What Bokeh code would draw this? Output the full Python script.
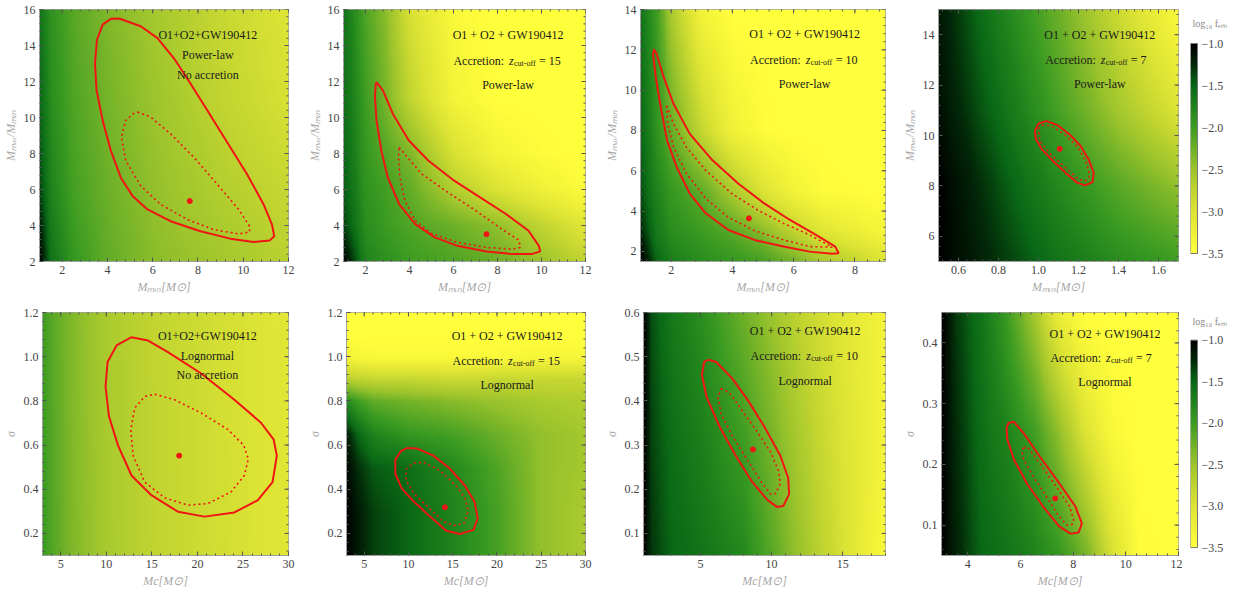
import numpy as np
from bokeh.plotting import figure
from bokeh.models import Range1d, FixedTicker, LinearColorMapper, Label, PrintfTickFormatter
from bokeh.core.properties import value
from bokeh.layouts import row, column
from bokeh.embed import file_html
from bokeh.resources import INLINE

# ------------------------------------------------------------------ data
CBAR_LOW, CBAR_HIGH = -3.5, -1.0
CBAR_TICKS = [-3.5, -3.0, -2.5, -2.0, -1.5, -1.0]
CBAR_TITLE = "log₁₀ fₑₘ"

# ---- Panel 1: O1+O2+GW190412, power-law, no accretion
P1_HX = [1, 1.5, 2.5, 4, 6, 9, 12]
P1_HY = [2, 6, 11, 16]
P1_HZ = [[-1.05, -1.6, -1.95, -2.2, -2.4, -2.55, -2.7],
         [-1.35, -1.75, -2.05, -2.25, -2.45, -2.65, -2.8],
         [-1.5, -1.85, -2.1, -2.3, -2.5, -2.75, -2.95],
         [-1.6, -1.9, -2.15, -2.35, -2.55, -2.8, -3.0]]
P1_OUT_X = [4.52, 5.47, 6.21, 6.94, 7.67, 8.41, 9.29, 10.17, 10.90, 11.27, 11.37, 11.16, 10.46,
            9.43, 8.11, 6.79, 5.77, 5.11, 4.59, 4.15, 3.79, 3.52, 3.45, 3.54, 3.79, 4.15]
P1_OUT_Y = [15.50, 15.07, 14.41, 13.29, 11.89, 10.40, 8.63, 6.85, 5.17, 4.05, 3.40, 3.16, 3.08,
            3.27, 3.68, 4.24, 4.89, 5.64, 6.67, 8.16, 9.84, 11.52, 13.01, 14.32, 15.16, 15.48]
P1_IN_X = [5.33, 5.91, 6.79, 7.82, 8.85, 9.80, 10.28, 10.28, 9.80, 8.70, 7.53, 6.35, 5.47,
           4.81, 4.62, 4.81, 5.18]
P1_IN_Y = [10.31, 10.03, 9.09, 7.79, 6.29, 4.89, 3.96, 3.64, 3.53, 3.77, 4.33, 5.17, 6.20,
           7.60, 8.91, 9.84, 10.25]
P1_BEST = (7.64, 5.36)

# ---- Panel 2: accretion z=15, power-law
P2_HX = [1, 2, 3, 4, 6, 8, 10, 12]
P2_HY = [2, 4, 6, 8, 11, 16]
P2_HZ = [[-1.05, -1.75, -1.9, -2.0, -2.1, -2.25, -2.5, -2.75],
         [-1.35, -1.85, -2.0, -2.1, -2.25, -2.45, -2.75, -3.05],
         [-1.45, -1.9, -2.05, -2.2, -2.65, -3.0, -3.25, -3.45],
         [-1.5, -1.95, -2.15, -2.35, -2.95, -3.3, -3.45, -3.5],
         [-1.55, -2.0, -2.35, -2.75, -3.3, -3.5, -3.5, -3.5],
         [-1.6, -2.1, -2.45, -2.95, -3.4, -3.5, -3.5, -3.5]]
P2_OUT_X = [2.50, 2.79, 3.24, 3.97, 4.85, 6.03, 7.21, 8.38, 9.41, 9.88, 9.94, 9.56, 8.68,
            7.50, 6.18, 5.15, 4.26, 3.53, 3.01, 2.72, 2.50, 2.43, 2.46]
P2_OUT_Y = [11.97, 11.51, 10.21, 8.72, 7.61, 6.49, 5.56, 4.64, 3.71, 2.87, 2.56, 2.41, 2.41,
            2.56, 2.87, 3.34, 4.08, 5.19, 6.68, 8.16, 9.84, 11.14, 11.79]
P2_IN_X = [3.53, 3.90, 4.56, 5.74, 6.91, 8.09, 8.97, 9.04, 8.68, 7.50, 6.18, 5.00, 4.26,
           3.79, 3.56, 3.50]
P2_IN_Y = [8.35, 7.79, 6.86, 5.84, 4.91, 3.89, 3.19, 2.78, 2.69, 2.78, 3.06, 3.56, 4.27,
           5.38, 6.68, 7.79]
P2_BEST = (7.50, 3.52)

# ---- Panel 3: accretion z=10, power-law
P3_HX = [1, 1.5, 2, 3, 4, 5, 6, 7, 9]
P3_HY = [1.5, 3, 5, 8, 14]
P3_HZ = [[-1.0, -1.5, -1.7, -1.85, -1.95, -2.05, -2.3, -2.6, -3.0],
         [-1.25, -1.65, -1.85, -2.0, -2.15, -2.4, -2.75, -3.05, -3.35],
         [-1.4, -1.75, -1.95, -2.2, -2.6, -3.0, -3.3, -3.45, -3.5],
         [-1.5, -1.9, -2.2, -2.8, -3.25, -3.45, -3.5, -3.5, -3.5],
         [-1.6, -2.0, -2.6, -3.3, -3.5, -3.5, -3.5, -3.5, -3.5]]
P3_OUT_X = [1.44, 1.53, 1.76, 2.08, 2.61, 3.35, 4.19, 5.04, 5.88, 6.73, 7.36, 7.47, 7.26,
            6.52, 5.67, 4.72, 3.87, 3.13, 2.61, 2.18, 1.87, 1.66, 1.50, 1.41]
P3_OUT_Y = [12.03, 11.78, 10.63, 9.31, 7.83, 6.52, 5.37, 4.38, 3.56, 2.82, 2.24, 1.91, 1.88,
            1.99, 2.24, 2.57, 3.06, 3.89, 4.87, 6.19, 7.50, 9.15, 10.63, 11.78]
P3_IN_X = [1.85, 2.08, 2.50, 3.13, 3.98, 4.83, 5.67, 6.52, 7.26, 6.52, 5.67, 4.72, 3.87,
           3.13, 2.50, 2.08, 1.89]
P3_IN_Y = [9.23, 8.33, 7.17, 6.02, 4.87, 4.05, 3.39, 2.82, 2.21, 2.24, 2.57, 3.03, 3.69,
           4.63, 5.86, 7.17, 8.33]
P3_BEST = (4.54, 3.64)

# ---- Panel 4: accretion z=7, power-law
P4_HX = [0.5, 0.8, 1.1, 1.4, 1.7]
P4_HY = [5, 8, 11, 15]
P4_HZ = [[-1.0, -1.3, -1.6, -1.85, -2.0],
         [-1.0, -1.4, -1.8, -2.15, -2.45],
         [-1.1, -1.55, -2.05, -2.55, -3.0],
         [-1.15, -1.7, -2.25, -2.85, -3.4]]
P4_OUT_X = [0.983, 1.000, 1.040, 1.096, 1.160, 1.209, 1.249, 1.276, 1.270, 1.233, 1.193,
            1.144, 1.080, 1.015, 0.986]
P4_OUT_Y = [10.21, 10.48, 10.57, 10.41, 10.01, 9.60, 9.07, 8.53, 8.15, 8.02, 8.13,
            8.46, 8.93, 9.47, 9.87]
P4_IN_X = [1.000, 1.019, 1.064, 1.128, 1.193, 1.238, 1.257, 1.233, 1.196, 1.144, 1.064, 1.007]
P4_IN_Y = [10.27, 10.41, 10.38, 10.05, 9.58, 8.96, 8.40, 8.19, 8.29, 8.66, 9.23, 9.77]
P4_BEST = (1.106, 9.47)

# ---- Panel 5: O1+O2+GW190412, lognormal, no accretion
P5_HX = [3, 4, 6, 10, 15, 20, 25, 30]
P5_HY = [0.1, 1.2]
P5_HZ = [[-1.98, -2.12, -2.33, -2.58, -2.74, -2.85, -2.95, -3.05],
         [-2.0, -2.15, -2.35, -2.6, -2.75, -2.86, -2.96, -3.06]]
P5_OUT_X = [12.77, 14.59, 16.77, 20.42, 24.06, 26.98, 28.36, 28.72, 28.25, 26.61, 24.06,
            20.78, 17.87, 14.95, 12.77, 11.31, 10.29, 9.92, 10.14, 11.13]
P5_OUT_Y = [1.088, 1.073, 1.021, 0.924, 0.805, 0.701, 0.626, 0.552, 0.432, 0.350, 0.295,
            0.276, 0.298, 0.373, 0.462, 0.596, 0.731, 0.865, 0.976, 1.051]
P5_IN_X = [15.32, 17.50, 20.42, 23.33, 25.08, 25.59, 25.15, 23.70, 21.15, 18.96, 16.41,
           14.22, 12.95, 12.69, 13.13, 14.22]
P5_IN_Y = [0.830, 0.805, 0.745, 0.671, 0.599, 0.537, 0.462, 0.388, 0.335, 0.328, 0.361,
           0.432, 0.552, 0.671, 0.768, 0.820]
P5_BEST = (18.0, 0.552)

# ---- Panel 6: accretion z=15, lognormal
P6_HX = [3, 4, 6, 10, 15, 20, 25, 30]
P6_HY = [0.1, 0.3, 0.5, 0.65, 0.8, 0.9, 1.0, 1.1, 1.2]
P6_HZ = [[-1.0, -1.15, -1.35, -1.5, -1.75, -2.05, -2.45, -2.6],
         [-1.0, -1.15, -1.35, -1.5, -1.75, -2.05, -2.45, -2.6],
         [-1.05, -1.25, -1.45, -1.55, -1.8, -2.1, -2.45, -2.55],
         [-1.2, -1.45, -1.75, -1.95, -2.05, -2.25, -2.45, -2.55],
         [-1.85, -2.0, -2.2, -2.3, -2.4, -2.5, -2.6, -2.65],
         [-2.7, -2.75, -2.8, -2.8, -2.85, -2.8, -2.8, -2.8],
         [-3.3, -3.35, -3.4, -3.4, -3.4, -3.4, -3.35, -3.35],
         [-3.5, -3.5, -3.5, -3.5, -3.5, -3.5, -3.5, -3.5],
         [-3.5, -3.5, -3.5, -3.5, -3.5, -3.5, -3.5, -3.5]]
P6_OUT_X = [9.90, 10.99, 12.81, 14.63, 16.37, 17.46, 17.83, 17.35, 15.79, 14.27, 12.45,
            10.63, 9.25, 8.52, 8.52, 9.18]
P6_OUT_Y = [0.587, 0.584, 0.552, 0.495, 0.417, 0.343, 0.268, 0.216, 0.197, 0.212, 0.276,
            0.343, 0.403, 0.470, 0.534, 0.574]
P6_IN_X = [10.63, 11.72, 13.54, 15.36, 16.45, 16.74, 16.26, 15.17, 13.90, 12.45, 10.63,
           9.72, 9.76]
P6_IN_Y = [0.519, 0.522, 0.485, 0.417, 0.355, 0.298, 0.246, 0.236, 0.254, 0.310, 0.380,
           0.440, 0.492]
P6_BEST = (14.12, 0.318)

# ---- Panel 7: accretion z=10, lognormal
P7_HX = [1, 1.5, 3, 5, 8, 10, 12, 15, 18]
P7_HY = [0.05, 0.3, 0.6]
P7_HZ = [[-1.0, -1.3, -1.5, -1.6, -1.8, -2.15, -2.5, -2.95, -3.4],
         [-1.0, -1.35, -1.55, -1.7, -2.0, -2.3, -2.6, -3.0, -3.3],
         [-1.0, -1.4, -1.65, -1.85, -2.25, -2.5, -2.75, -3.05, -3.3]]
P7_OUT_X = [5.55, 6.11, 7.23, 8.36, 9.48, 10.60, 11.16, 11.23, 10.82, 10.37, 9.70, 8.58,
            7.46, 6.34, 5.44, 5.10, 5.26]
P7_OUT_Y = [0.493, 0.488, 0.451, 0.400, 0.342, 0.277, 0.226, 0.189, 0.162, 0.160, 0.176,
            0.219, 0.277, 0.342, 0.408, 0.459, 0.488]
P7_IN_X = [6.45, 7.01, 7.91, 9.03, 9.93, 10.49, 10.60, 10.26, 9.93, 9.37, 8.36, 7.23,
           6.45, 6.23]
P7_IN_Y = [0.428, 0.419, 0.379, 0.328, 0.284, 0.241, 0.212, 0.190, 0.189, 0.212, 0.263,
           0.321, 0.371, 0.408]
P7_BEST = (8.69, 0.290)

# ---- Panel 8: accretion z=7, lognormal
P8_HX = [3, 3.5, 4.5, 5.5, 6.5, 7.5, 8.5, 9.5, 10.5, 12]
P8_HY = [0.05, 0.25, 0.45]
P8_HZ = [[-1.0, -1.2, -1.5, -1.6, -1.75, -1.95, -2.3, -2.95, -3.45, -3.5],
         [-1.0, -1.25, -1.55, -1.75, -2.0, -2.45, -3.0, -3.4, -3.5, -3.5],
         [-1.0, -1.3, -1.6, -2.0, -2.55, -3.2, -3.5, -3.5, -3.5, -3.5]]
P8_OUT_X = [5.54, 5.75, 6.11, 6.73, 7.47, 8.08, 8.33, 8.21, 7.90, 7.47, 6.85, 6.24, 5.75,
            5.50, 5.47]
P8_OUT_Y = [0.268, 0.270, 0.252, 0.213, 0.169, 0.131, 0.103, 0.088, 0.086, 0.098, 0.131,
            0.169, 0.208, 0.241, 0.260]
P8_IN_X = [6.12, 6.26, 6.73, 7.35, 7.86, 8.02, 7.96, 7.78, 7.47, 6.98, 6.48, 6.12, 6.05]
P8_IN_Y = [0.227, 0.229, 0.202, 0.164, 0.131, 0.109, 0.101, 0.100, 0.114, 0.147, 0.180,
           0.208, 0.222]
P8_BEST = (7.32, 0.144)

# axis ranges and ticks
P1_XR, P1_YR, P1_XT, P1_YT = (1, 12), (2, 16), [2, 4, 6, 8, 10, 12], [2, 4, 6, 8, 10, 12, 14, 16]
P2_XR, P2_YR, P2_XT, P2_YT = (1, 12), (2, 16), [2, 4, 6, 8, 10, 12], [2, 4, 6, 8, 10, 12, 14, 16]
P3_XR, P3_YR, P3_XT, P3_YT = (1, 9), (1.5, 14), [2, 4, 6, 8], [2, 4, 6, 8, 10, 12, 14]
P4_XR, P4_YR, P4_XT, P4_YT = (0.5, 1.7), (5, 15), [0.6, 0.8, 1.0, 1.2, 1.4, 1.6], [6, 8, 10, 12, 14]
P5_XR, P5_YR, P5_XT, P5_YT = (3, 30), (0.1, 1.2), [5, 10, 15, 20, 25, 30], [0.2, 0.4, 0.6, 0.8, 1.0, 1.2]
P6_XR, P6_YR, P6_XT, P6_YT = (3, 30), (0.1, 1.2), [5, 10, 15, 20, 25, 30], [0.2, 0.4, 0.6, 0.8, 1.0, 1.2]
P7_XR, P7_YR, P7_XT, P7_YT = (1, 18), (0.05, 0.6), [5, 10, 15], [0.1, 0.2, 0.3, 0.4, 0.5, 0.6]
P8_XR, P8_YR, P8_XT, P8_YT = (3, 12), (0.05, 0.45), [4, 6, 8, 10, 12], [0.1, 0.2, 0.3, 0.4]

XLAB_TOP = "Mₘᵢₙ[M⊙]"
YLAB_TOP = "Mₘₐₓ/Mₘᵢₙ"
XLAB_BOT = "Mc[M⊙]"
YLAB_BOT = "σ"

P1_TXT = ["O1+O2+GW190412", "Power-law", "No accretion"]
P2_TXT = ["O1 + O2 + GW190412", "15", "Power-law"]
P3_TXT = ["O1 + O2 + GW190412", "10", "Power-law"]
P4_TXT = ["O1 + O2 + GW190412", "7", "Power-law"]
P5_TXT = ["O1+O2+GW190412", "Lognormal", "No accretion"]
P6_TXT = ["O1 + O2 + GW190412", "15", "Lognormal"]
P7_TXT = ["O1 + O2 + GW190412", "10", "Lognormal"]
P8_TXT = ["O1 + O2 + GW190412", "7", "Lognormal"]

# ------------------------------------------------------------------ style
PAL_ANCHORS = [(-3.5, (255, 255, 60)), (-3.25, (240, 240, 56)), (-3.0, (221, 228, 52)),
               (-2.75, (192, 212, 48)), (-2.5, (156, 196, 44)), (-2.25, (108, 176, 40)),
               (-2.0, (60, 156, 34)), (-1.75, (30, 132, 28)), (-1.5, (10, 105, 22)),
               (-1.25, (2, 40, 8)), (-1.0, (0, 0, 0))]
RED = "#f01414"
SERIF = "Liberation Serif"
TXT = "#1a1a1a"
TICK = "#555555"


def make_palette(n=256):
    vs = np.array([a[0] for a in PAL_ANCHORS])
    cs = np.array([a[1] for a in PAL_ANCHORS], float)
    out = []
    for v in np.linspace(CBAR_LOW, CBAR_HIGH, n):
        r, g, b = (np.interp(v, vs, cs[:, k]) for k in range(3))
        out.append("#%02x%02x%02x" % (int(round(r)), int(round(g)), int(round(b))))
    return out


MAPPER = LinearColorMapper(palette=make_palette(), low=CBAR_LOW, high=CBAR_HIGH)


def render_grid(hx, hy, hz, xr, yr, n=250):
    # resample the read grid onto the display raster
    xs = np.linspace(xr[0], xr[1], n)
    ys = np.linspace(yr[0], yr[1], n)
    z = np.array(hz, float)
    tmp = np.array([np.interp(xs, hx, r) for r in z])
    return np.array([np.interp(ys, hy, tmp[:, j]) for j in range(n)]).T


def minor_ticks(major, rng):
    step = (major[1] - major[0]) / 5.0
    start = major[0] - 10 * step
    vals = start + step * np.arange(0, 400)
    return [float(round(v, 6)) for v in vals if rng[0] - 1e-9 <= v <= rng[1] + 1e-9]


def style_axis(ax, major, rng):
    ax.ticker = FixedTicker(ticks=major, minor_ticks=minor_ticks(major, rng))
    if any(abs(t - round(t)) > 1e-9 for t in major):
        ax.formatter = PrintfTickFormatter(format="%.1f")
    ax.major_tick_in = 4
    ax.major_tick_out = 0
    ax.minor_tick_in = 2
    ax.minor_tick_out = 0
    ax.major_tick_line_color = TICK
    ax.minor_tick_line_color = TICK
    ax.axis_line_color = "#a0a0a0"
    ax.major_label_text_font = SERIF
    ax.major_label_text_color = "#444444"
    ax.major_label_text_font_size = "12px"
    ax.major_label_standoff = 4
    ax.axis_label_text_font = SERIF
    ax.axis_label_text_font_style = "italic"
    ax.axis_label_text_color = "#a8a8a8"
    ax.axis_label_text_font_size = "12px"
    ax.axis_label_standoff = 3


def opposite_ticks(p, xt, yt, xr, yr):
    # inward tick marks on the top and right frame edges
    xm = minor_ticks(xt, xr)
    ym = minor_ticks(yt, yr)
    p.scatter(xt, [yr[1]] * len(xt), marker="dash", size=8, angle=np.pi / 2,
              line_color=TICK, line_width=1)
    p.scatter(xm, [yr[1]] * len(xm), marker="dash", size=4, angle=np.pi / 2,
              line_color=TICK, line_width=1)
    p.scatter([xr[1]] * len(yt), yt, marker="dash", size=8, line_color=TICK, line_width=1)
    p.scatter([xr[1]] * len(ym), ym, marker="dash", size=4, line_color=TICK, line_width=1)


def add_texts(p, xr, yr, fh, fx, pys, texts):
    xc = xr[0] + fx * (xr[1] - xr[0])
    ycs = [yr[1] - py / fh * (yr[1] - yr[0]) for py in pys]
    base = dict(text_font=SERIF, text_font_size="12px", text_color=TXT, text_baseline="middle")
    p.add_layout(Label(x=xc, y=ycs[0], text=texts[0], text_align="center", **base))
    if texts[1].isdigit():
        y = ycs[1]
        p.add_layout(Label(x=xc, y=y, text="Accretion:", text_align="right", x_offset=-4, **base))
        p.add_layout(Label(x=xc, y=y, text="z", text_align="left", x_offset=1,
                           text_font_style="italic", **base))
        sub = dict(base)
        sub["text_font_size"] = "8px"
        p.add_layout(Label(x=xc, y=y, text="cut-off", text_align="left", x_offset=6,
                           y_offset=-3, **sub))
        p.add_layout(Label(x=xc, y=y, text="= " + texts[1], text_align="left", x_offset=31, **base))
    else:
        p.add_layout(Label(x=xc, y=ycs[1], text=texts[1], text_align="center", **base))
    p.add_layout(Label(x=xc, y=ycs[2], text=texts[2], text_align="center", **base))


def panel(hx, hy, hz, ox, oy, ix, iy, best, xr, yr, xt, yt, xlab, ylab, texts,
          width, height, bl, br, bt, bb, fx, pys):
    p = figure(width=width, height=height, x_range=Range1d(*xr), y_range=Range1d(*yr),
               output_backend="svg", toolbar_location=None,
               min_border_left=bl, min_border_right=br, min_border_top=bt, min_border_bottom=bb)
    p.grid.visible = False
    p.outline_line_color = "#a0a0a0"
    p.image(image=[render_grid(hx, hy, hz, xr, yr)], x=xr[0], y=yr[0],
            dw=xr[1] - xr[0], dh=yr[1] - yr[0], color_mapper=MAPPER)
    p.line(list(ox) + [ox[0]], list(oy) + [oy[0]], line_color=RED, line_width=2)
    p.line(list(ix) + [ix[0]], list(iy) + [iy[0]], line_color=RED, line_width=1.6,
           line_dash="2 3")
    p.scatter([best[0]], [best[1]], size=5, color=RED)
    opposite_ticks(p, xt, yt, xr, yr)
    style_axis(p.xaxis[0], xt, xr)
    style_axis(p.yaxis[0], yt, yr)
    p.xaxis.axis_label = xlab
    p.yaxis.axis_label = ylab
    fh = height - bt - bb
    add_texts(p, xr, yr, fh, fx, pys, texts)
    return p


def colour_bar(width, height, bl, bt, bb, gap_top, gap_bottom, title_gap):
    # a narrow plot whose frame has the panel height; the bar fills part of it
    fh = height - bt - bb
    fw = width - bl
    per_px = (CBAR_HIGH - CBAR_LOW) / (fh - gap_top - gap_bottom)
    y0 = CBAR_LOW - gap_bottom * per_px
    y1 = CBAR_HIGH + gap_top * per_px
    c = figure(width=width, height=height, x_range=Range1d(0, fw), y_range=Range1d(y0, y1),
               output_backend="svg", toolbar_location=None,
               x_axis_location=None, y_axis_location=None,
               min_border_left=bl, min_border_right=0, min_border_top=bt, min_border_bottom=bb)
    c.grid.visible = False
    c.outline_line_color = None
    scale = np.linspace(CBAR_LOW, CBAR_HIGH, 256).reshape(-1, 1)
    c.image(image=[scale], x=0, y=CBAR_LOW, dw=7, dh=CBAR_HIGH - CBAR_LOW, color_mapper=MAPPER)
    c.quad(left=[0], right=[7], bottom=[CBAR_LOW], top=[CBAR_HIGH], fill_color=None,
           line_color="#777777", line_width=1)
    labels = ["\u2212%.1f" % abs(t) for t in CBAR_TICKS]
    c.text(x=[11] * len(CBAR_TICKS), y=CBAR_TICKS, text=labels, text_font=value(SERIF),
           text_font_size="12px", text_color="#444444", text_baseline="middle",
           text_align="left")
    c.add_layout(Label(x=fw / 2.0 - 2, y=y1 - title_gap * per_px, text=CBAR_TITLE,
                       text_font=SERIF, text_font_size="10px", text_color="#888888",
                       text_align="center", text_baseline="middle"))
    return c


# layout (the page has no margin; positions are window pixels)
R1_H, R1_BT, R1_BB = 300, 9, 39
R2_H, R2_BT, R2_BB = 290, 12, 32

f1 = panel(P1_HX, P1_HY, P1_HZ, P1_OUT_X, P1_OUT_Y, P1_IN_X, P1_IN_Y, P1_BEST,
           P1_XR, P1_YR, P1_XT, P1_YT, XLAB_TOP, YLAB_TOP, P1_TXT,
           304, R1_H, 39, 16, R1_BT, R1_BB, 0.676, [25, 45, 65])
f2 = panel(P2_HX, P2_HY, P2_HZ, P2_OUT_X, P2_OUT_Y, P2_IN_X, P2_IN_Y, P2_BEST,
           P2_XR, P2_YR, P2_XT, P2_YT, XLAB_TOP, YLAB_TOP, P2_TXT,
           297, R1_H, 32, 16, R1_BT, R1_BB, 0.68, [25, 51, 75])
f3 = panel(P3_HX, P3_HY, P3_HZ, P3_OUT_X, P3_OUT_Y, P3_IN_X, P3_IN_Y, P3_BEST,
           P3_XR, P3_YR, P3_XT, P3_YT, XLAB_TOP, YLAB_TOP, P3_TXT,
           298, R1_H, 32, 14, R1_BT, R1_BB, 0.67, [24, 50, 74])
f4 = panel(P4_HX, P4_HY, P4_HZ, P4_OUT_X, P4_OUT_Y, P4_IN_X, P4_IN_Y, P4_BEST,
           P4_XR, P4_YR, P4_XT, P4_YT, XLAB_TOP, YLAB_TOP, P4_TXT,
           283, R1_H, 32, 4, R1_BT, R1_BB, 0.672, [25, 50, 74])
c1 = colour_bar(50, R1_H, 8, R1_BT, R1_BB, 34, 8, 14)
f5 = panel(P5_HX, P5_HY, P5_HZ, P5_OUT_X, P5_OUT_Y, P5_IN_X, P5_IN_Y, P5_BEST,
           P5_XR, P5_YR, P5_XT, P5_YT, XLAB_BOT, YLAB_BOT, P5_TXT,
           304, R2_H, 39, 16, R2_BT, R2_BB, 0.67, [24, 44, 63])
f6 = panel(P6_HX, P6_HY, P6_HZ, P6_OUT_X, P6_OUT_Y, P6_IN_X, P6_IN_Y, P6_BEST,
           P6_XR, P6_YR, P6_XT, P6_YT, XLAB_BOT, YLAB_BOT, P6_TXT,
           297, R2_H, 32, 16, R2_BT, R2_BB, 0.672, [24, 49, 73])
f7 = panel(P7_HX, P7_HY, P7_HZ, P7_OUT_X, P7_OUT_Y, P7_IN_X, P7_IN_Y, P7_BEST,
           P7_XR, P7_YR, P7_XT, P7_YT, XLAB_BOT, YLAB_BOT, P7_TXT,
           298, R2_H, 32, 14, R2_BT, R2_BB, 0.668, [19, 44, 69])
f8 = panel(P8_HX, P8_HY, P8_HZ, P8_OUT_X, P8_OUT_Y, P8_IN_X, P8_IN_Y, P8_BEST,
           P8_XR, P8_YR, P8_XT, P8_YT, XLAB_BOT, YLAB_BOT, P8_TXT,
           283, R2_H, 32, 4, R2_BT, R2_BB, 0.69, [22, 46, 70])
c2 = colour_bar(50, R2_H, 8, R2_BT, R2_BB, 28, 8, 9)

layout = column(row(f1, f2, f3, f4, c1, spacing=0),
                row(f5, f6, f7, f8, c2, spacing=0), spacing=0)
open("out.html", "w").write(file_html(layout, INLINE))
